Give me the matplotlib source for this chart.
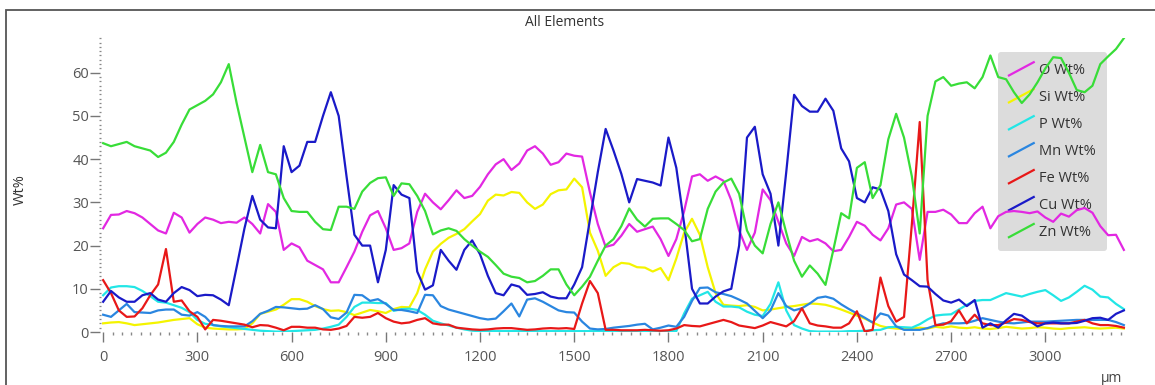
import numpy as np
import pandas as pd
import matplotlib
matplotlib.use('Agg')
import matplotlib.pyplot as plt
from matplotlib.lines import Line2D
from matplotlib.patches import Rectangle
from matplotlib.legend_handler import HandlerLine2D
from matplotlib.ticker import MultipleLocator

plt.rcParams['font.family'] = ['Open Sans', 'DejaVu Sans']

# distance along the line scan (um), one point every 25 um
dist = np.arange(0, 3251, 25)

# Wt% per element, 10 values per row (250 um per row)
o_wt = [24, 27.1, 27.2, 28, 27.5, 26.5, 25, 23.5, 22.8, 27.6,
        26.5, 23, 25, 26.5, 26, 25.2, 25.5, 25.3, 26.5, 25,
        22.8, 29.6, 27.8, 19, 20.5, 19.6, 16.5, 15.5, 14.5, 11.5,
        11.5, 15, 18.6, 23.2, 27, 28, 24, 19, 19.4, 20.5,
        27.8, 32, 30, 28.4, 30.5, 32.8, 31, 31.5, 33.6, 36.5,
        38.8, 40, 37.5, 39, 42, 43, 41.3, 38.7, 39.3, 41.3,
        40.8, 40.6, 32.3, 25, 19.7, 20.2, 22.3, 25, 23.2, 23.8,
        24.4, 21.5, 17.6, 21.5, 28, 36, 36.5, 35, 36, 35,
        30.5, 23.5, 19, 23, 33, 30.5, 25.5, 20.5, 17.6, 22,
        21, 21.5, 20.5, 18.7, 19, 22, 25.5, 24.6, 22.5, 21.2,
        24, 29.5, 30, 28.5, 16.7, 27.8, 27.8, 28.3, 27.2, 25.2,
        25.2, 27.5, 29, 24, 26.8, 27.8, 28, 27.8, 27.5, 27.9,
        26.5, 25.5, 27.4, 26.7, 28.2, 28.7, 27.6, 24.5, 22.4, 22.5,
        19]
si_wt = [2, 2.2, 2.3, 2, 1.6, 1.8, 2, 2.2, 2.5, 2.8,
         3, 3.2, 1.8, 1, 0.8, 0.7, 0.6, 0.6, 0.7, 2,
         4.2, 4.7, 5.2, 6.3, 7.6, 7.6, 7, 6, 5.3, 4.9,
         5, 4.6, 3.9, 4.5, 5.1, 4.8, 4.4, 5.3, 5.8, 5.7,
         9, 14.5, 18.6, 20.4, 21.8, 22.7, 23.8, 25.6, 27.3, 30.4,
         31.8, 31.6, 32.4, 32.2, 30, 28.5, 29.5, 31.9, 32.8, 33,
         35.5, 33.5, 23, 18.8, 13, 15, 16, 15.8, 15, 14.9,
         14, 14.8, 12, 17, 23, 26.2, 22.5, 15, 9, 6.3,
         6.1, 6, 6.2, 5.8, 5, 5.2, 5.5, 5.8, 6, 6.3,
         6.6, 6.5, 6.3, 5.8, 5.2, 4.5, 3.8, 3.1, 2.2, 1.4,
         1, 0.8, 0.7, 0.8, 1, 0.8, 1.2, 1, 1.3, 1,
         0.9, 1.1, 0.8, 0.7, 0.9, 1.2, 1, 0.8, 0.9, 1.1,
         1, 0.8, 0.7, 0.9, 1, 1.1, 0.9, 0.8, 0.9, 1,
         0.8]
p_wt = [8.5, 10.3, 10.6, 10.6, 10.4, 9.5, 8.3, 7, 6.8, 6.2,
        5.6, 4.6, 2.8, 1.9, 1.6, 1.3, 1.1, 0.9, 0.7, 0.5,
        0.3, 0.2, 0.1, 0.1, 0.2, 0.3, 0.4, 0.5, 0.8, 1.2,
        1.7, 3.5, 5.8, 6.8, 6.8, 6.7, 6.7, 4.9, 5.3, 5.4,
        5.1, 4, 2.6, 2, 1.5, 1, 0.6, 0.3, 0.2, 0.2,
        0.2, 0.2, 0.2, 0.2, 0.2, 0.2, 0.2, 0.2, 0.2, 0.2,
        0.2, 0.2, 0.2, 0.2, 0.2, 0.2, 0.2, 0.2, 0.2, 0.2,
        0.2, 0.2, 0.2, 0.2, 4.3, 7.7, 8.5, 9.3, 7, 5.9,
        5.9, 5.7, 4.7, 4, 3.7, 6.5, 11.5, 5, 1.6, 0.8,
        0.2, 0.1, 0.1, 0.1, 0.1, 0.2, 0.2, 0.3, 0.4, 0.5,
        1.1, 1.2, 1.1, 1, 1.8, 2.9, 3.8, 4, 4.1, 5.2,
        6.3, 7.2, 7.4, 7.4, 8.2, 9, 8.6, 8.2, 8.8, 9.3,
        9.7, 8.5, 7.2, 8, 9.3, 10.7, 9.8, 8.2, 8, 6.5,
        5.3]
mn_wt = [4, 3.5, 5, 6.5, 4.6, 4.5, 4.4, 5, 5.2, 5.2,
         4, 3.8, 4.6, 3.5, 1.6, 1.4, 1.3, 1.3, 1.3, 2.5,
         4.2, 4.9, 5.8, 5.7, 5.5, 5.3, 5.4, 6.2, 5.3, 3.4,
         3, 4.5, 8.6, 8.5, 7.2, 7.6, 6.5, 5.1, 5.1, 4.8,
         4.4, 8.6, 8.5, 6, 5.2, 4.7, 4.2, 3.7, 3.2, 2.9,
         3.1, 4.8, 6.6, 3.6, 7.5, 7.8, 7, 6, 5, 4.6,
         4.5, 2.4, 0.8, 0.6, 0.7, 1, 1.2, 1.4, 1.7, 1.9,
         0.6, 1, 1.5, 1.2, 3.5, 7.2, 10.2, 10.3, 9.2, 8.8,
         8.3, 7.5, 6.6, 4.9, 3.2, 5, 9, 6, 5, 5.5,
         6.6, 7.9, 8.2, 7.7, 6.4, 5.3, 4.3, 3.3, 2.2, 4.3,
         3.8, 1.3, 0.5, 0.5, 0.5, 0.9, 1.5, 2, 2, 2,
         2.1, 2.6, 3.2, 2.8, 2.4, 2.1, 2, 2.2, 2.4, 2.4,
         2.4, 2.5, 2.6, 2.7, 2.8, 2.8, 2.8, 2.8, 2.8, 2.3,
         1.6]
fe_wt = [12, 9, 5, 3.5, 3.6, 5.5, 8.5, 11, 19.2, 7,
         7.3, 4.8, 3.5, 0.6, 2.8, 2.6, 2.3, 2, 1.7, 1.1,
         1.6, 1.5, 1, 0.4, 1.2, 1.2, 1, 1, 0.6, 0.5,
         0.8, 1.4, 3.5, 3.3, 3.5, 4.4, 3.2, 2.4, 2, 2.2,
         2.8, 3.2, 2, 1.7, 1.7, 1, 0.8, 0.6, 0.5, 0.6,
         0.8, 0.9, 0.9, 0.7, 0.5, 0.6, 0.8, 0.9, 0.8, 0.9,
         0.7, 6.6, 11.8, 9, 0.5, 0.5, 0.4, 0.4, 0.4, 0.5,
         0.4, 0.3, 0.4, 0.8, 1.6, 1.4, 1.3, 1.8, 2.3, 2.8,
         2.3, 1.5, 1.2, 0.9, 1.5, 2.3, 1.8, 1.3, 2.5, 5.5,
         2, 1.5, 1.3, 1, 1, 2, 4.8, 0.1, 0.5, 12.6,
         6, 2.4, 3.5, 25, 48.6, 12, 1.6, 1.7, 2.5, 5,
         2, 4, 2, 1.6, 1.6, 2.2, 3, 2.8, 2.3, 2,
         2, 2, 2, 2, 2.4, 2.8, 2, 1.6, 1.6, 1.4,
         1]
cu_wt = [7, 9.5, 8, 7, 7, 8.5, 9, 7.5, 7, 9,
         10.4, 9.7, 8.3, 8.6, 8.5, 7.5, 6.2, 15, 24, 31.5,
         26, 24.2, 24, 43, 37, 38.5, 44, 44, 50, 55.5,
         50, 36, 22.5, 20, 20, 11.5, 19, 34, 31.8, 31,
         14, 9.8, 10.8, 19, 16.5, 14.4, 19, 21.2, 18, 13,
         9, 8.5, 11, 10.5, 8.6, 8.8, 9.2, 8.2, 7.8, 7.8,
         11, 15, 26, 37, 47, 42, 36.6, 30, 35.4, 35,
         34.6, 33.9, 45, 38, 25, 10, 6.6, 6.6, 8.2, 9.4,
         10, 20, 45, 47.5, 36.5, 32, 20, 37, 54.9, 52.3,
         51, 51, 54, 51.2, 42.5, 39.5, 31, 30, 33.5, 33,
         28, 18, 13.3, 12, 10.6, 10.5, 8.8, 7.3, 6.8, 7.5,
         6, 7.4, 1, 2, 1, 2.7, 4.2, 3.8, 2.5, 1.3,
         2, 2.2, 2, 2, 2.1, 2.6, 3.2, 3.3, 2.8, 4.2,
         5]
zn_wt = [43.7, 43, 43.5, 44, 43, 42.5, 42, 40.5, 41.5, 44,
         48, 51.5, 52.5, 53.5, 55, 57.8, 62, 53, 45, 37,
         43.3, 37, 36.5, 31, 28, 27.8, 27.8, 25.5, 23.8, 23.6,
         29, 29, 28.5, 32.5, 34.5, 35.6, 35.8, 31.5, 34.4, 34.2,
         31.5, 28, 22.6, 23.5, 24, 23.4, 21.5, 20, 18.6, 17.4,
         15.5, 13.5, 12.8, 12.5, 11.5, 11.8, 13, 14.5, 14.5, 11,
         8.5, 10.5, 12.8, 16.5, 20, 21.5, 24.5, 28.6, 26, 24.4,
         26.2, 26.3, 26.3, 25, 23.6, 21, 21.5, 28.5, 32.5, 34.6,
         35.5, 32, 23.5, 20, 18.2, 25, 30, 23, 16.5, 12.8,
         15.4, 13.5, 10.9, 19, 27.5, 26.3, 38, 39.3, 31, 34,
         44.6, 50.5, 45, 36, 22.8, 50, 58, 59, 57, 57.5,
         57.8, 56.4, 59, 64, 59, 58.5, 55.5, 53, 55, 57.8,
         61, 63.6, 63.4, 60, 56, 55.5, 57, 62, 63.8, 65.5,
         68]

elements = ['O Wt%', 'Si Wt%', 'P Wt%', 'Mn Wt%', 'Fe Wt%', 'Cu Wt%', 'Zn Wt%']
colors = ['#E228E2', '#F4F400', '#22E6E6', '#2A86E0', '#E81818', '#1A1AC8', '#38DD38']

df = pd.DataFrame({'dist': dist, 'O Wt%': o_wt, 'Si Wt%': si_wt, 'P Wt%': p_wt,
                   'Mn Wt%': mn_wt, 'Fe Wt%': fe_wt, 'Cu Wt%': cu_wt, 'Zn Wt%': zn_wt})


# legend keys drawn as short slanted strokes
class SlantHandler(HandlerLine2D):
    def create_artists(self, legend, orig_handle, xdescent, ydescent,
                       width, height, fontsize, trans):
        x0 = -xdescent
        y0 = -ydescent
        ln = Line2D([x0, x0 + width], [y0 - 0.15 * height, y0 + 1.15 * height])
        self.update_prop(ln, orig_handle, legend)
        ln.set_transform(trans)
        return [ln]


fig = plt.figure(figsize=(11.55, 3.85), dpi=100)
W, H = 1155, 385
ax = fig.add_axes([100 / W, 53 / H, 1027 / W, 293.8 / H])

handles = []
for name, col in zip(elements, colors):
    h, = ax.plot(df['dist'], df[name], color=col, lw=1.6, label=name, zorder=2)
    handles.append(h)

ax.set_xlim(-10, 3260)
ax.set_ylim(0, 68)
for s in ax.spines.values():
    s.set_visible(False)

ax.set_xticks(range(0, 3001, 300))
ax.xaxis.set_minor_locator(MultipleLocator(30))
ax.set_yticks(range(0, 61, 10))
ax.yaxis.set_minor_locator(MultipleLocator(1))
ax.tick_params(axis='x', which='major', length=7, width=1, color='#777', pad=6,
               labelsize=10.5, labelcolor='#555')
ax.tick_params(axis='x', which='minor', length=1.8, width=1, color='#888')
ax.tick_params(axis='y', which='major', length=7, width=1, color='#777', pad=1,
               labelsize=10.5, labelcolor='#555')
ax.tick_params(axis='y', which='minor', length=2, width=0.9, color='#888', direction='inout')

fig.text(565 / W, 1 - 22 / H, 'All Elements', ha='center', va='center', fontsize=10, color='#333')
fig.text(20 / W, 1 - 190 / H, 'Wt%', ha='center', va='center', rotation=90, fontsize=10.5, color='#333')
fig.text(1112 / W, 1 - 378 / H, 'µm', ha='center', va='center', fontsize=10, color='#444')

# outer frame (left and top edges visible)
fig.add_artist(Rectangle((6 / W, -0.2), 1.2, 1.2 - 10 / H, transform=fig.transFigure,
                         fill=False, edgecolor='#555', lw=1.3))

leg = ax.legend(handles, elements, handler_map={Line2D: SlantHandler()},
                loc='upper left', bbox_to_anchor=(998 / W, 1 - 52 / H),
                bbox_transform=fig.transFigure, borderaxespad=0,
                frameon=True, fancybox=True, facecolor='#DCDCDC', edgecolor='none',
                framealpha=1, fontsize=10.5, labelspacing=0.82, handlelength=1.7,
                handletextpad=0.35, borderpad=0.75, labelcolor='#333')
leg.set_zorder(1)

fig.savefig('out.png', dpi=100)
